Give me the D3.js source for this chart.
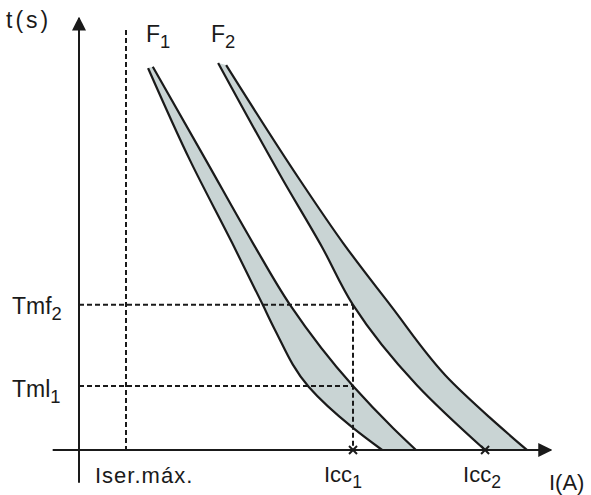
<!DOCTYPE html>
<html>
<head>
<meta charset="utf-8">
<script src="https://cdn.jsdelivr.net/npm/d3@7"></script>
<style>
  body { margin: 0; background: #fff; }
  text { font-family: "Liberation Sans", Arial, sans-serif; fill: #1a1a1a; }
</style>
</head>
<body>
<div id="chart"></div>
<script>
var width = 591, height = 495;

// fuse curves, I and t in relative units (0-100)
var f1Min = [[14.7,88.4],[23.6,67.1],[32.6,47.9],[39.1,33.6],[41.7,27.8],[48.9,14.6],[58.1,5.3],[64.5,0]];
var f1Max = [[15.7,88.7],[27.0,67.1],[37.0,47.9],[44.9,33.6],[58.3,14.8],[66.8,5.1],[71.7,0]];
var f2Min = [[29.6,89.6],[43.4,62.5],[51.7,47.0],[58.3,33.6],[71.9,15.0],[86.4,0]];
var f2Max = [[31.3,89.1],[47.0,62.5],[56.2,47.9],[66.2,33.6],[78.9,16.2],[87.3,7.6],[95.3,0]];

var iser = 10.0, icc1 = 58.3, icc2 = 86.4;
var tmf2 = 33.6, tml1 = 14.8;

var x = d3.scaleLinear().domain([0, 100]).range([79, 549]);
var y = d3.scaleLinear().domain([0, 100]).range([450, 18]);

var svg = d3.select("#chart").append("svg")
  .attr("width", width)
  .attr("height", height);

var ink = "#1a1a1a";

var defs = svg.append("defs");
defs.append("marker")
  .attr("id", "arrow")
  .attr("viewBox", "0 0 10 10")
  .attr("refX", 9).attr("refY", 5)
  .attr("markerWidth", 7).attr("markerHeight", 7.5)
  .attr("markerUnits", "strokeWidth")
  .attr("orient", "auto")
  .append("path")
  .attr("d", "M0,0 L10,5 L0,10 Z")
  .attr("fill", ink);

var line = d3.line()
  .x(function(d) { return x(d[0]); })
  .y(function(d) { return y(d[1]); })
  .curve(d3.curveMonotoneY);

function band(a, b) {
  var p1 = line(a);
  var p2 = line(b.slice().reverse());
  return p1 + p2.replace(/^M/, "L") + "Z";
}

// bands
[[f1Min, f1Max], [f2Min, f2Max]].forEach(function(f) {
  svg.append("path")
    .attr("d", band(f[0], f[1]))
    .attr("fill", "#c9d4d4")
    .attr("stroke", "none");
});

// dashed guides
var dash = "5,3";
svg.append("line")
  .attr("x1", x(iser)).attr("x2", x(iser))
  .attr("y1", y(97.2)).attr("y2", y(0))
  .attr("stroke", ink).attr("stroke-width", 2).attr("stroke-dasharray", dash);
[tmf2, tml1].forEach(function(t) {
  svg.append("line")
    .attr("x1", x(0)).attr("x2", x(icc1))
    .attr("y1", y(t)).attr("y2", y(t))
    .attr("stroke", ink).attr("stroke-width", 2).attr("stroke-dasharray", dash);
});
svg.append("line")
  .attr("x1", x(icc1)).attr("x2", x(icc1))
  .attr("y1", y(tmf2)).attr("y2", y(0))
  .attr("stroke", ink).attr("stroke-width", 2).attr("stroke-dasharray", dash);

// curve outlines
[f1Min, f1Max, f2Min, f2Max].forEach(function(c) {
  svg.append("path")
    .attr("d", line(c))
    .attr("fill", "none")
    .attr("stroke", ink)
    .attr("stroke-width", 2.2);
});

// axes
svg.append("line")
  .attr("x1", x(0)).attr("x2", x(0))
  .attr("y1", y(-7.6)).attr("y2", y(100))
  .attr("stroke", ink).attr("stroke-width", 2)
  .attr("marker-end", "url(#arrow)");
svg.append("line")
  .attr("x1", x(-5.6)).attr("x2", x(100.4))
  .attr("y1", y(0)).attr("y2", y(0))
  .attr("stroke", ink).attr("stroke-width", 2)
  .attr("marker-end", "url(#arrow)");

// x markers on the I axis
[icc1, icc2].forEach(function(v) {
  var cx = x(v), cy = y(0), s = 4;
  svg.append("path")
    .attr("d", "M" + (cx - s) + "," + (cy - s) + "L" + (cx + s) + "," + (cy + s) +
               "M" + (cx - s) + "," + (cy + s) + "L" + (cx + s) + "," + (cy - s))
    .attr("stroke", ink).attr("stroke-width", 2);
});

// labels
function label(px, py, main, sub, size, anchor) {
  var t = svg.append("text")
    .attr("x", px).attr("y", py)
    .attr("font-size", size)
    .attr("text-anchor", anchor || "start");
  t.append("tspan").text(main);
  if (sub) {
    t.append("tspan").attr("font-size", size * 0.8).attr("dy", 6).text(sub);
  }
  return t;
}

label(6, 28, "t(s)", null, 23).attr("letter-spacing", 3);
label(146, 42, "F", "1", 23);
label(211, 42, "F", "2", 23);
label(12, y(tmf2) + 9, "Tmf", "2", 23);
label(12, y(tml1) + 11, "Tml", "1", 23);
label(95, 483, "Iser.máx.", null, 22).attr("letter-spacing", 1);
label(x(icc1) - 29, 482, "Icc", "1", 22);
label(x(icc2) - 22, 482, "Icc", "2", 22);
label(549, 490, "I(A)", null, 22);
</script>
</body>
</html>
